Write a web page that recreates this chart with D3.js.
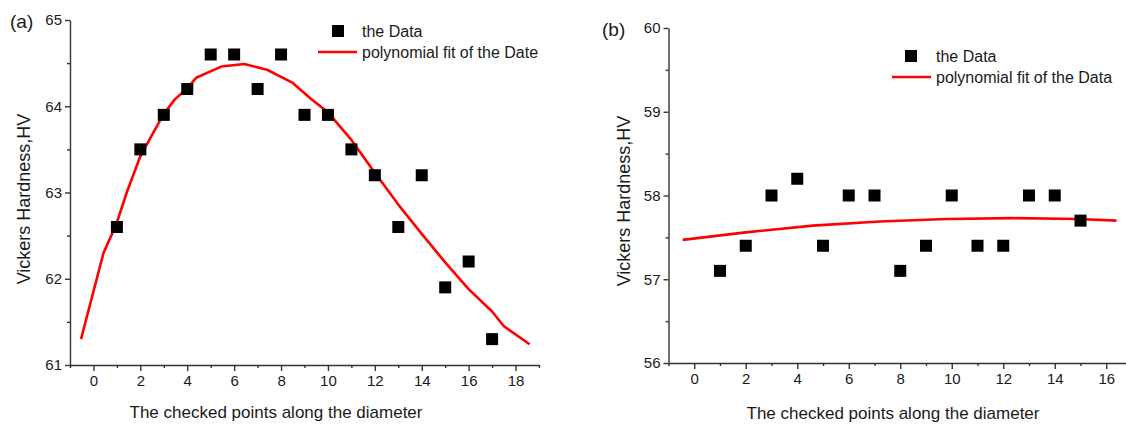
<!DOCTYPE html>
<html lang="en">
<head>
<meta charset="UTF-8">
<title>Vickers Hardness</title>
<script src="https://d3js.org/d3.v7.min.js"></script>
<style>
  body { margin: 0; background: #fff; font-family: "Liberation Sans", Arial, sans-serif; }
  svg text { fill: #1a1a1a; }
  .axis path, .axis line { stroke: #333; stroke-width: 1.4px; }
  .axis text { font-size: 15px; font-family: "Liberation Sans", Arial, sans-serif; fill: #1a1a1a; }
  .title { font-size: 17px; }
  .ytitle { font-size: 18px; }
  .legend { font-size: 16px; }
</style>
</head>
<body>
<svg id="chart" width="1126" height="425"></svg>
<script>
// panel (a)
const pointsA = [1, 2, 3, 4, 5, 6, 7, 8, 9, 10, 11, 12, 13, 14, 15, 16, 17];
const hardnessA = [62.6, 63.5, 63.9, 64.2, 64.6, 64.6, 64.2, 64.6, 63.9, 63.9, 63.5, 63.2, 62.6, 63.2, 61.9, 62.2, 61.3];
const fitXA = [-0.53, 0.43, 0.96, 1.42, 2.0, 2.4, 2.97, 3.47, 3.97, 4.38, 5.45, 6.44, 7.43, 8.5, 9.26, 10.0, 11.0, 12.0, 13.0, 14.0, 15.0, 16.0, 17.0, 17.5, 18.6];
const fitYA = [61.30, 62.30, 62.62, 63.00, 63.42, 63.62, 63.90, 64.08, 64.20, 64.33, 64.46, 64.49, 64.42, 64.27, 64.09, 63.93, 63.61, 63.23, 62.86, 62.52, 62.19, 61.88, 61.62, 61.45, 61.24];
const yTicksA = [61, 62, 63, 64, 65];
const xTicksA = [0, 2, 4, 6, 8, 10, 12, 14, 16, 18];

// panel (b)
const pointsB = [1, 2, 3, 4, 5, 6, 7, 8, 9, 10, 11, 12, 13, 14, 15];
const hardnessB = [57.1, 57.4, 58.0, 58.2, 57.4, 58.0, 58.0, 57.1, 57.4, 58.0, 57.4, 57.4, 58.0, 58.0, 57.7];
const fitXB = [-0.45, 2.0, 4.6, 7.2, 9.8, 12.35, 14.9, 16.4];
const fitYB = [57.47, 57.56, 57.64, 57.69, 57.72, 57.73, 57.72, 57.70];
const yTicksB = [56, 57, 58, 59, 60];
const xTicksB = [0, 2, 4, 6, 8, 10, 12, 14, 16];

const svg = d3.select("#chart");

function panel(cfg) {
  const x = d3.scaleLinear().domain(cfg.xDomain).range(cfg.xRange);
  const y = d3.scaleLinear().domain(cfg.yDomain).range(cfg.yRange);
  const g = svg.append("g");
  const x0 = cfg.xRange[0], y0 = cfg.yRange[0];

  // minor ticks
  const xMinor = d3.range(cfg.xDomain[0], cfg.xDomain[1] + 0.01, 2).filter(v => !cfg.xTicks.includes(v));
  const yMinor = cfg.yTicks.slice(0, -1).map(v => v + 0.5);
  g.append("g").attr("class", "axis").attr("transform", `translate(0,${y0})`)
    .call(d3.axisBottom(x).tickValues(xMinor).tickSize(3).tickSizeOuter(0).tickFormat(""))
    .select(".domain").remove();
  g.append("g").attr("class", "axis").attr("transform", `translate(${x0},0)`)
    .call(d3.axisLeft(y).tickValues(yMinor).tickSize(3).tickSizeOuter(0).tickFormat(""))
    .select(".domain").remove();

  // major axes
  g.append("g").attr("class", "axis").attr("transform", `translate(0,${y0})`)
    .call(d3.axisBottom(x).tickValues(cfg.xTicks).tickSize(6).tickSizeOuter(0).tickPadding(4).tickFormat(d3.format("d")));
  g.append("g").attr("class", "axis").attr("transform", `translate(${x0},0)`)
    .call(d3.axisLeft(y).tickValues(cfg.yTicks).tickSize(5).tickSizeOuter(0).tickPadding(3).tickFormat(d3.format("d")));

  // fit line
  const fit = cfg.fitX.map((v, i) => [v, cfg.fitY[i]]);
  g.append("path").datum(fit)
    .attr("fill", "none").attr("stroke", "#ff0000").attr("stroke-width", 2.6)
    .attr("stroke-linejoin", "round")
    .attr("d", d3.line().x(d => x(d[0])).y(d => y(d[1])));

  // data squares
  const s = 12;
  g.selectAll("rect.pt").data(cfg.px).enter().append("rect")
    .attr("class", "pt")
    .attr("x", (d) => x(d) - s / 2)
    .attr("y", (d, i) => y(cfg.py[i]) - s / 2)
    .attr("width", s).attr("height", s).attr("fill", "#000");

  // titles
  g.append("text")
    .attr("x", cfg.tag[0]).attr("y", cfg.tag[1]).attr("font-size", 19).text(cfg.label);
  g.append("text").attr("class", "ytitle")
    .attr("transform", `translate(${cfg.yTitle[0]},${cfg.yTitle[1]}) rotate(-90)`)
    .attr("text-anchor", "middle").text("Vickers Hardness,HV");
  g.append("text").attr("class", "title")
    .attr("x", cfg.xTitle[0]).attr("y", cfg.xTitle[1])
    .attr("text-anchor", "middle").text("The checked points along the diameter");

  // legend
  const lg = svg.append("g").attr("transform", `translate(${cfg.legend[0]},${cfg.legend[1]})`);
  lg.append("rect").attr("x", cfg.legend[2] - s / 2).attr("y", -s / 2).attr("width", s).attr("height", s).attr("fill", "#000");
  lg.append("text").attr("class", "legend").attr("x", 44).attr("y", 6).text("the Data");
  lg.append("line").attr("x1", 0).attr("x2", 39).attr("y1", 21).attr("y2", 21)
    .attr("stroke", "#ff0000").attr("stroke-width", 2.6);
  lg.append("text").attr("class", "legend").attr("x", 44).attr("y", 27).text(cfg.fitName);
}

panel({
  xDomain: [-1, 19], xRange: [70, 539],
  yDomain: [61, 65], yRange: [365, 20],
  xTicks: xTicksA, yTicks: yTicksA,
  px: pointsA, py: hardnessA, fitX: fitXA, fitY: fitYA,
  label: "(a)", tag: [10, 28],
  yTitle: [30, 199], xTitle: [276, 418],
  legend: [318, 31, 20], fitName: "polynomial fit of the Date"
});

panel({
  xDomain: [-1, 17], xRange: [668.5, 1132],
  yDomain: [56, 60], yRange: [363, 28],
  xTicks: xTicksB, yTicks: yTicksB,
  px: pointsB, py: hardnessB, fitX: fitXB, fitY: fitYB,
  label: "(b)", tag: [602, 36],
  yTitle: [630, 201], xTitle: [893, 419],
  legend: [892, 56, 19], fitName: "polynomial fit of the Data"
});
</script>
</body>
</html>
